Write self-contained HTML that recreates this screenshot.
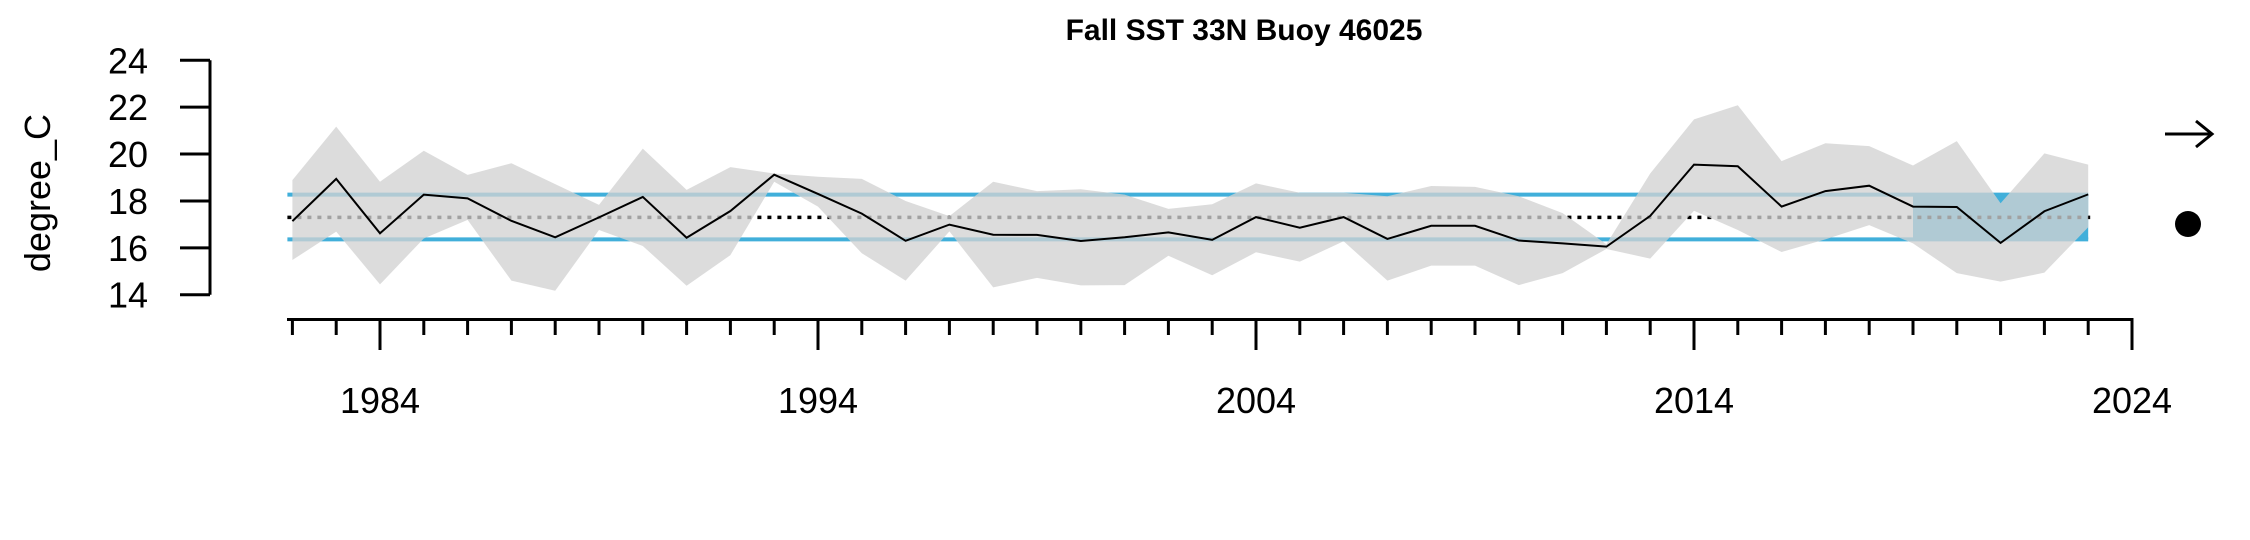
<!DOCTYPE html>
<html><head><meta charset="utf-8"><style>
html,body{margin:0;padding:0;background:#fff;}
svg{display:block;font-family:"Liberation Sans",Arial,sans-serif;}
</style></head><body>
<svg id="chart" width="2250" height="540" viewBox="0 0 2250 540" xmlns="http://www.w3.org/2000/svg">
<text x="1244" y="40" text-anchor="middle" font-size="30" font-weight="bold">Fall SST 33N Buoy 46025</text>
<text transform="translate(50,193) rotate(-90)" text-anchor="middle" font-size="36">degree_C</text>
<g id="plot"></g>
<g stroke="#000" stroke-width="3" fill="none">
<line x1="2165" y1="134" x2="2212" y2="134"/><polyline points="2196,121 2212,134 2196,147"/></g>
<circle cx="2188" cy="224" r="13" fill="#000"/>
</svg>
<script>
const years=[1982,1983,1984,1985,1986,1987,1988,1989,1990,1991,1992,1993,1994,1995,1996,1997,1998,1999,2000,2001,2002,2003,2004,2005,2006,2007,2008,2009,2010,2011,2012,2013,2014,2015,2016,2017,2018,2019,2020,2021,2022,2023];
const values=[17.14,18.94,16.62,18.27,18.11,17.15,16.45,17.3,18.17,16.43,17.57,19.12,18.3,17.46,16.3,16.99,16.56,16.55,16.29,16.45,16.66,16.34,17.31,16.86,17.31,16.38,16.94,16.94,16.31,16.19,16.05,17.36,19.55,19.48,17.76,18.42,18.65,17.76,17.74,16.21,17.56,18.28];
const upper=[18.89,21.17,18.82,20.14,19.11,19.61,18.72,17.83,20.23,18.47,19.44,19.17,19.03,18.94,18.0,17.35,18.82,18.42,18.5,18.27,17.66,17.86,18.75,18.35,18.35,18.2,18.64,18.6,18.2,17.48,16.15,19.17,21.48,22.08,19.7,20.46,20.34,19.51,20.55,17.9,20.03,19.55];
const lower=[15.48,16.69,14.44,16.4,17.19,14.6,14.17,16.76,16.08,14.38,15.69,18.82,17.76,15.77,14.6,16.7,14.31,14.72,14.4,14.41,15.66,14.83,15.81,15.41,16.28,14.6,15.24,15.24,14.41,14.92,15.95,15.54,17.58,16.76,15.82,16.36,16.97,16.19,14.92,14.56,14.94,16.88];
const yTicks=[14,16,18,20,22,24];
const xLabels=[1984,1994,2004,2014,2024];
const meanVal=17.30, sdUpper=18.27, sdLower=16.36;
const recentStart=2019;
</script>
<script>
const NS="http://www.w3.org/2000/svg";
const plot=document.getElementById('plot');
const xS=y=>380+(y-1984)*43.8;
const yS=v=>60.3+(24-v)*23.44;
function mk(tag,attrs,parent){const e=document.createElementNS(NS,tag);for(const k in attrs)e.setAttribute(k,attrs[k]);(parent||plot).appendChild(e);return e;}
const x0=xS(years[0])-5, x1=xS(years[years.length-1]);
let b=mk('rect',{x:xS(recentStart),y:yS(sdUpper),width:x1-xS(recentStart),height:yS(sdLower)-yS(sdUpper),fill:'#41afda'});


let l=mk('line',{x1:x0,x2:x1,y1:yS(sdUpper),y2:yS(sdUpper),stroke:'#41afda','stroke-width':4});


l=mk('line',{x1:x0,x2:x1,y1:yS(sdLower),y2:yS(sdLower),stroke:'#41afda','stroke-width':4});


l=mk('line',{x1:x0,x2:x1+2,y1:yS(meanVal),y2:yS(meanVal),stroke:'#000','stroke-width':3.5,'stroke-dasharray':'4 6'});


let pts=years.map((y,i)=>xS(y)+','+yS(upper[i]));
for(let i=years.length-1;i>=0;i--)pts.push(xS(years[i])+','+yS(lower[i]));
let band=mk('polygon',{points:pts.join(' '),fill:'rgb(210,210,210)','fill-opacity':0.77});


let ln=mk('polyline',{points:years.map((y,i)=>xS(y)+','+yS(values[i])).join(' '),fill:'none',stroke:'#000','stroke-width':2});


let ya=mk('g',{stroke:'#000','stroke-width':3});


mk('line',{x1:210,x2:210,y1:yS(24),y2:yS(14)},ya);
yTicks.forEach(t=>{
 mk('line',{x1:180,x2:210,y1:yS(t),y2:yS(t)},ya);
 const tx=mk('text',{x:148,y:yS(t)+13,'text-anchor':'end','font-size':36,stroke:'none',fill:'#000'});
 tx.textContent=t;
 
 
});
let xa=mk('g',{stroke:'#000','stroke-width':3});


mk('line',{x1:287,x2:xS(2024)+1.5,y1:319.5,y2:319.5},xa);
for(let y=1982;y<=2024;y++){
 const major=xLabels.includes(y);
 mk('line',{x1:xS(y),x2:xS(y),y1:319.5,y2:major?350:335},xa);
}
xLabels.forEach(y=>{
 const tx=mk('text',{x:xS(y),y:413,'text-anchor':'middle','font-size':36,stroke:'none',fill:'#000'});
 tx.textContent=y;
 
 
});
</script>
</body></html>
